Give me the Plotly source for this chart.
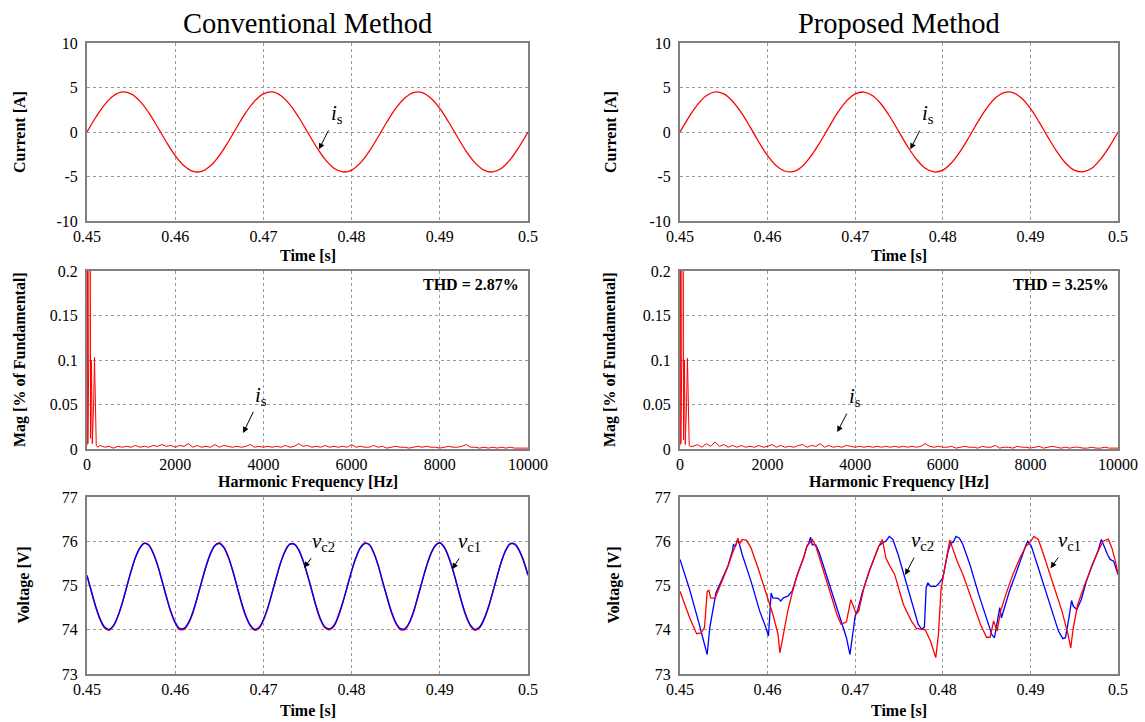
import plotly.graph_objects as go

# ---------------- sampling instants ----------------
t_cur = [round(0.450 + 0.001 * k, 4) for k in range(51)]
t_vc = [round(0.450 + 0.0005 * k, 5) for k in range(101)]

# ---------------- source current i_s [A] ----------------
is_conv = [0.00, 1.66, 3.08, 4.07, 4.50, 4.29, 3.47, 2.17, 0.56, -1.12,
           -2.65, -3.80, -4.42, -4.43, -3.80, -2.65, -1.12, 0.56, 2.17, 3.47,
           4.29, 4.50, 4.07, 3.08, 1.66, 0.00, -1.66, -3.08, -4.07, -4.49,
           -4.28, -3.47, -2.17, -0.56, 1.12, 2.65, 3.80, 4.43, 4.43, 3.80,
           2.65, 1.12, -0.56, -2.17, -3.47, -4.28, -4.49, -4.07, -3.08, -1.66,
           0.00]
is_prop = [0.00, 1.65, 3.08, 4.08, 4.50, 4.28, 3.46, 2.17, 0.57, -1.12,
           -2.66, -3.80, -4.41, -4.43, -3.81, -2.64, -1.12, 0.55, 2.18, 3.47,
           4.28, 4.49, 4.07, 3.09, 1.66, 0.01, -1.66, -3.07, -4.08, -4.49,
           -4.29, -3.46, -2.16, -0.56, 1.13, 2.65, 3.81, 4.42, 4.43, 3.79,
           2.65, 1.11, -0.57, -2.17, -3.48, -4.28, -4.48, -4.07, -3.07, -1.67,
           0.00]

# ---------------- harmonic spectrum of i_s ----------------
low_freq = [0, 10, 20, 40, 60, 80, 100, 120, 150, 170, 180, 190, 210, 240]
low_conv = [0.004, 0.300, 0.006, 0.100, 1.000, 0.012, 0.100, 0.006, 0.050, 0.103, 0.078, 0.050, 0.004, 0.002]
low_prop = [0.004, 0.300, 0.006, 0.100, 1.000, 0.010, 0.100, 0.005, 0.052, 0.102, 0.078, 0.050, 0.004, 0.003]

# 300 Hz ... 10000 Hz in 100 Hz steps
noise_conv = [
    0.004, 0.002, 0.003, 0.001, 0.003, 0.002, 0.003, 0.002, 0.004, 0.002,
    0.003, 0.002, 0.004, 0.003, 0.005, 0.003, 0.004, 0.002, 0.004, 0.003,
    0.006, 0.002, 0.004, 0.002, 0.003, 0.002, 0.005, 0.002, 0.004, 0.003,
    0.002, 0.003, 0.002, 0.003, 0.005, 0.002, 0.003, 0.002, 0.003, 0.002,
    0.003, 0.002, 0.004, 0.002, 0.003, 0.006, 0.003, 0.004, 0.002, 0.003,
    0.002, 0.004, 0.002, 0.003, 0.002, 0.003, 0.002, 0.005, 0.002, 0.003,
    0.002, 0.002, 0.004, 0.002, 0.003, 0.001, 0.002, 0.003, 0.002, 0.002,
    0.001, 0.002, 0.003, 0.002, 0.003, 0.002, 0.002, 0.001, 0.002, 0.003,
    0.002, 0.002, 0.003, 0.005, 0.002, 0.002, 0.001, 0.002, 0.001, 0.002,
    0.001, 0.002, 0.001, 0.002, 0.001, 0.001, 0.001, 0.001]
noise_prop = [
    0.003, 0.005, 0.002, 0.006, 0.003, 0.008, 0.003, 0.005, 0.002, 0.004,
    0.002, 0.004, 0.002, 0.003, 0.002, 0.004, 0.002, 0.003, 0.005, 0.002,
    0.004, 0.002, 0.003, 0.002, 0.004, 0.005, 0.002, 0.004, 0.003, 0.006,
    0.002, 0.004, 0.002, 0.003, 0.002, 0.004, 0.003, 0.002, 0.003, 0.002,
    0.003, 0.002, 0.003, 0.002, 0.003, 0.002, 0.003, 0.002, 0.003, 0.002,
    0.003, 0.002, 0.003, 0.006, 0.003, 0.002, 0.003, 0.002, 0.002, 0.003,
    0.001, 0.002, 0.003, 0.002, 0.002, 0.001, 0.003, 0.002, 0.002, 0.004,
    0.001, 0.002, 0.002, 0.001, 0.003, 0.002, 0.002, 0.001, 0.002, 0.003,
    0.001, 0.002, 0.003, 0.002, 0.001, 0.002, 0.001, 0.002, 0.002, 0.001,
    0.001, 0.002, 0.001, 0.001, 0.002, 0.001, 0.001, 0.001]

freq_conv = low_freq + [300 + 100 * k for k in range(len(noise_conv))]
freq_prop = low_freq + [300 + 100 * k for k in range(len(noise_prop))]
mag_conv = low_conv + noise_conv
mag_prop = low_prop + noise_prop

# ---------------- DC-link capacitor voltages, conventional [V] ----------------
vc2_conv = [75.23, 74.87, 74.52, 74.24, 74.06, 74.01, 74.10, 74.31, 74.61, 74.97,
            75.33, 75.64, 75.85, 75.95, 75.91, 75.73, 75.46, 75.11, 74.75, 74.42,
            74.17, 74.03, 74.03, 74.16, 74.40, 74.73, 75.09, 75.44, 75.72, 75.90,
            75.95, 75.86, 75.65, 75.35, 74.99, 74.63, 74.32, 74.11, 74.01, 74.05,
            74.23, 74.50, 74.85, 75.21, 75.54, 75.79, 75.93, 75.93, 75.80, 75.56,
            75.24, 74.88, 74.52, 74.23, 74.06, 74.02, 74.10, 74.32, 74.62, 74.97,
            75.33, 75.63, 75.85, 75.95, 75.92, 75.74, 75.46, 75.10, 74.75, 74.42,
            74.17, 74.03, 74.02, 74.15, 74.40, 74.74, 75.10, 75.44, 75.72, 75.90,
            75.96, 75.86, 75.64, 75.34, 74.98, 74.62, 74.31, 74.10, 74.01, 74.06,
            74.24, 74.51, 74.85, 75.21, 75.55, 75.80, 75.94, 75.93, 75.79, 75.55,
            75.23]
vc1_conv = [75.22, 74.86, 74.50, 74.22, 74.04, 73.99, 74.08, 74.30, 74.60, 74.96,
            75.32, 75.63, 75.85, 75.96, 75.92, 75.74, 75.46, 75.11, 74.74, 74.40,
            74.15, 74.01, 74.01, 74.14, 74.38, 74.72, 75.08, 75.43, 75.72, 75.91,
            75.96, 75.87, 75.66, 75.35, 74.98, 74.61, 74.30, 74.09, 73.99, 74.03,
            74.21, 74.49, 74.84, 75.20, 75.54, 75.80, 75.94, 75.94, 75.81, 75.56,
            75.23, 74.87, 74.50, 74.21, 74.04, 74.00, 74.08, 74.30, 74.61, 74.96,
            75.32, 75.63, 75.86, 75.96, 75.93, 75.75, 75.47, 75.10, 74.74, 74.40,
            74.15, 74.01, 74.00, 74.13, 74.38, 74.73, 75.09, 75.44, 75.73, 75.91,
            75.97, 75.87, 75.65, 75.34, 74.97, 74.60, 74.29, 74.08, 73.99, 74.04,
            74.22, 74.49, 74.84, 75.20, 75.55, 75.81, 75.95, 75.94, 75.80, 75.56,
            75.24]

# ---------------- DC-link capacitor voltages, proposed [V] ----------------
t_vc1_prop = [0.4500, 0.4511, 0.4519, 0.4524, 0.4528, 0.4531, 0.4533, 0.4535, 0.4540, 0.4542,
              0.4548, 0.4555, 0.4560, 0.4564, 0.4566, 0.4568, 0.4571, 0.4576, 0.4581, 0.4589,
              0.4598, 0.4606, 0.4612, 0.4614, 0.4618, 0.4623, 0.4628, 0.4634, 0.4641, 0.4645,
              0.4648, 0.4651, 0.4655, 0.4663, 0.4671, 0.4679, 0.4684, 0.4690, 0.4695, 0.4698,
              0.4701, 0.4704, 0.4710, 0.4716, 0.4723, 0.4727, 0.4731, 0.4735, 0.4739, 0.4745,
              0.4755, 0.4764, 0.4770, 0.4776, 0.4780, 0.4786, 0.4792, 0.4795, 0.4798, 0.4800,
              0.4803, 0.4806, 0.4808, 0.4811, 0.4817, 0.4823, 0.4835, 0.4843, 0.4850, 0.4854,
              0.4858, 0.4862, 0.4866, 0.4872, 0.4880, 0.4888, 0.4895, 0.4899, 0.4904, 0.4909,
              0.4915, 0.4925, 0.4936, 0.4943, 0.4946, 0.4949, 0.4954, 0.4962, 0.4970, 0.4977,
              0.4983, 0.4989, 0.4993, 0.4997, 0.5000]
vc1_prop = [74.87, 74.27, 73.91, 73.93, 74.05, 74.86, 74.89, 74.72, 74.71, 74.80,
            75.10, 75.44, 75.74, 75.92, 76.07, 75.94, 76.04, 76.02, 75.85, 75.40,
            74.87, 74.35, 73.89, 73.48, 73.89, 74.42, 74.83, 75.25, 75.62, 75.89,
            75.96, 76.04, 75.89, 75.40, 74.87, 74.35, 74.12, 74.18, 74.68, 74.53,
            74.35, 74.42, 74.95, 75.32, 75.70, 75.89, 76.04, 75.62, 75.46, 75.25,
            74.57, 74.20, 74.03, 74.01, 74.00, 73.74, 73.37, 73.89, 74.90, 75.15,
            75.47, 75.77, 76.03, 75.85, 75.52, 75.25, 74.57, 74.12, 73.83, 73.83,
            74.20, 73.97, 74.42, 74.80, 75.25, 75.62, 75.89, 75.96, 76.11, 76.04,
            75.70, 75.10, 74.42, 73.89, 73.59, 74.05, 74.57, 75.02, 75.44, 75.77,
            76.00, 76.05, 75.85, 75.55, 75.25]

t_vc2_prop = [0.4500, 0.4511, 0.4522, 0.4528, 0.4531, 0.4534, 0.4538, 0.4541, 0.4548, 0.4555,
              0.4560, 0.4561, 0.4563, 0.4566, 0.4568, 0.4571, 0.4581, 0.4591, 0.4598, 0.4601,
              0.4604, 0.4606, 0.4612, 0.4615, 0.4618, 0.4623, 0.4628, 0.4634, 0.4641, 0.4645,
              0.4647, 0.4649, 0.4651, 0.4655, 0.4659, 0.4667, 0.4675, 0.4684, 0.4690, 0.4694,
              0.4697, 0.4700, 0.4703, 0.4708, 0.4716, 0.4723, 0.4727, 0.4731, 0.4735, 0.4739,
              0.4743, 0.4749, 0.4757, 0.4766, 0.4772, 0.4776, 0.4779, 0.4781, 0.4783, 0.4786,
              0.4792, 0.4796, 0.4800, 0.4803, 0.4806, 0.4809, 0.4812, 0.4815, 0.4819, 0.4823,
              0.4831, 0.4841, 0.4850, 0.4856, 0.4859, 0.4862, 0.4865, 0.4867, 0.4870, 0.4876,
              0.4884, 0.4890, 0.4895, 0.4897, 0.4901, 0.4909, 0.4917, 0.4925, 0.4932, 0.4937,
              0.4940, 0.4944, 0.4947, 0.4949, 0.4953, 0.4958, 0.4964, 0.4970, 0.4977, 0.4981,
              0.4984, 0.4988, 0.4991, 0.4995, 0.5000]
vc2_prop = [75.59, 74.91, 74.12, 73.67, 73.44, 74.05, 74.50, 74.83, 75.14, 75.46,
            75.79, 75.92, 75.89, 76.04, 75.92, 75.70, 75.10, 74.42, 74.05, 73.86,
            74.83, 74.72, 74.71, 74.65, 74.72, 74.76, 74.87, 75.25, 75.62, 75.89,
            75.96, 76.09, 75.92, 75.92, 75.74, 75.25, 74.72, 74.20, 73.82, 73.44,
            73.89, 74.31, 74.46, 74.83, 75.32, 75.70, 75.89, 75.96, 76.00, 76.11,
            76.04, 75.70, 75.17, 74.57, 74.12, 74.01, 74.06, 74.95, 75.06, 74.98,
            74.98, 75.06, 75.17, 75.47, 75.77, 75.96, 75.98, 76.11, 76.07, 75.92,
            75.47, 74.80, 74.27, 73.89, 73.82, 74.12, 74.50, 74.27, 74.46, 74.87,
            75.30, 75.65, 75.92, 76.00, 75.89, 75.40, 74.91, 74.42, 73.97, 73.80,
            73.82, 74.27, 74.66, 74.53, 74.46, 74.68, 75.10, 75.44, 75.77, 76.04,
            75.89, 75.70, 75.59, 75.55, 75.25]

# ---------------- styling ----------------
SERIF = "Liberation Serif, Times New Roman, serif"
RED = "#ff0000"
BLUE = "#0000ff"
W, H = 1145, 722

X_LEFT = [87 / W, 528 / W]
X_RIGHT = [680 / W, 1118 / W]
Y_ROW = [[1 - 221 / H, 1 - 43 / H],
         [1 - 449 / H, 1 - 271 / H],
         [1 - 674 / H, 1 - 497 / H]]

fig = go.Figure()

def add(x, y, color, ax_idx, width=1.3, shape="linear"):
    s = "" if ax_idx == 1 else str(ax_idx)
    fig.add_trace(go.Scatter(x=x, y=y, mode="lines",
                             line=dict(color=color, width=width, shape=shape),
                             xaxis="x" + s, yaxis="y" + s, showlegend=False,
                             hoverinfo="skip"))

# row 1: current
add(t_cur, is_conv, RED, 1, 1.3, "spline")
add(t_cur, is_prop, RED, 2, 1.3, "spline")
# row 2: spectrum
add(freq_conv, mag_conv, RED, 3, 1.0)
add(freq_prop, mag_prop, RED, 4, 1.0)
# row 3: capacitor voltages
add(t_vc, vc1_conv, RED, 5, 1.4, "spline")
add(t_vc, vc2_conv, BLUE, 5, 1.4, "spline")
add(t_vc2_prop, vc2_prop, BLUE, 6, 1.3)
add(t_vc1_prop, vc1_prop, RED, 6, 1.3)

time_ticks = [0.45, 0.46, 0.47, 0.48, 0.49, 0.5]
time_text = ["0.45", "0.46", "0.47", "0.48", "0.49", "0.5"]
freq_ticks = [0, 2000, 4000, 6000, 8000, 10000]
freq_text = ["0", "2000", "4000", "6000", "8000", "10000"]
cur_ticks = [-10, -5, 0, 5, 10]
cur_text = ["-10", "-5", "0", "5", "10"]
mag_ticks = [0, 0.05, 0.1, 0.15, 0.2]
mag_text = ["0", "0.05", "0.1", "0.15", "0.2"]
volt_ticks = [73, 74, 75, 76, 77]
volt_text = ["73", "74", "75", "76", "77"]

common = dict(showline=True, mirror=True, linecolor="#808080", linewidth=2,
              showgrid=True, gridcolor="#9a9a9a", gridwidth=1, griddash="dot",
              zeroline=False, ticks="", tickfont=dict(family=SERIF, size=16, color="black"),
              tickmode="array", fixedrange=True, automargin=False)

axes = {}
specs = [  # (x domain, y domain, x range, x ticks, x text, y range, y ticks, y text)
    (X_LEFT, Y_ROW[0], [0.45, 0.5], time_ticks, time_text, [-10, 10], cur_ticks, cur_text),
    (X_RIGHT, Y_ROW[0], [0.45, 0.5], time_ticks, time_text, [-10, 10], cur_ticks, cur_text),
    (X_LEFT, Y_ROW[1], [0, 10000], freq_ticks, freq_text, [0, 0.2], mag_ticks, mag_text),
    (X_RIGHT, Y_ROW[1], [0, 10000], freq_ticks, freq_text, [0, 0.2], mag_ticks, mag_text),
    (X_LEFT, Y_ROW[2], [0.45, 0.5], time_ticks, time_text, [73, 77], volt_ticks, volt_text),
    (X_RIGHT, Y_ROW[2], [0.45, 0.5], time_ticks, time_text, [73, 77], volt_ticks, volt_text),
]
for i, (xd, yd, xr, xt, xtt, yr, yt, ytt) in enumerate(specs, start=1):
    s = "" if i == 1 else str(i)
    axes["xaxis" + s] = dict(common, domain=xd, range=xr, tickvals=xt, ticktext=xtt,
                             anchor="y" + s, ticklabelstandoff=0)
    axes["yaxis" + s] = dict(common, domain=yd, range=yr, tickvals=yt, ticktext=ytt,
                             anchor="x" + s, ticklabelstandoff=4)

annotations = []

def label(text, x, y, size=16, bold=True, angle=0, xanchor="center"):
    annotations.append(dict(text=("<b>%s</b>" % text) if bold else text, x=x, y=y,
                            xref="paper", yref="paper", showarrow=False,
                            textangle=angle, xanchor=xanchor, yanchor="middle",
                            font=dict(family=SERIF, size=size, color="black")))

# column titles
label("Conventional Method", (X_LEFT[0] + X_LEFT[1]) / 2, 1 - 23 / H, size=28.5, bold=False)
label("Proposed Method", (X_RIGHT[0] + X_RIGHT[1]) / 2, 1 - 23 / H, size=28.5, bold=False)

# axis titles
for xd, yl in ((X_LEFT, [19 / W, 20 / W, 23 / W]), (X_RIGHT, [610 / W, 610 / W, 613 / W])):
    xc = (xd[0] + xd[1]) / 2
    label("Time [s]", xc, 1 - 255 / H)
    label("Harmonic Frequency [Hz]", xc, 1 - 482 / H)
    label("Time [s]", xc, 1 - 710 / H)
    label("Current [A]", yl[0], (Y_ROW[0][0] + Y_ROW[0][1]) / 2, angle=-90)
    label("Mag [% of Fundamental]", yl[1], (Y_ROW[1][0] + Y_ROW[1][1]) / 2, angle=-90)
    label("Voltage [V]", yl[2], (Y_ROW[2][0] + Y_ROW[2][1]) / 2, angle=-90)

# THD read-outs
for s, thd in (("3", "THD = 2.87%"), ("4", "THD = 3.25%")):
    annotations.append(dict(text="<b>%s</b>" % thd, x=9830, y=0.185, xref="x" + s, yref="y" + s,
                            showarrow=False, xanchor="right", yanchor="middle",
                            font=dict(family=SERIF, size=16, color="black")))

def tag(text, s, tx, ty, hx, hy, size=21):
    """Signal name placed at (tx, ty) with an arrow pointing at (hx, hy)."""
    xr, yr = ("x" + s, "y" + s) if s != "1" else ("x", "y")
    annotations.append(dict(text=text, x=hx, y=hy, ax=tx, ay=ty, xref=xr, yref=yr,
                            axref=xr, ayref=yr, showarrow=True, arrowhead=2,
                            arrowsize=1.2, arrowwidth=1, arrowcolor="black",
                            startstandoff=2,
                            font=dict(family=SERIF, size=size, color="black")))

IS = "<i>i</i><sub>s</sub>"
VC1 = "<i>v</i><sub>c1</sub>"
VC2 = "<i>v</i><sub>c2</sub>"
tag(IS, "1", 0.4783, 2.0, 0.4763, -1.95)
tag(IS, "2", 0.4783, 2.0, 0.4763, -1.95)
tag(IS, "3", 3950, 0.060, 3540, 0.018)
tag(IS, "4", 4000, 0.058, 3590, 0.019)
tag(VC2, "5", 0.4768, 75.98, 0.4746, 75.40)
tag(VC1, "5", 0.4934, 75.98, 0.4914, 75.37)
tag(VC2, "6", 0.4777, 76.0, 0.4757, 75.24)
tag(VC1, "6", 0.4945, 76.0, 0.4923, 75.39)

fig.update_layout(width=W, height=H, margin=dict(l=0, r=0, t=0, b=0, autoexpand=False),
                  paper_bgcolor="white", plot_bgcolor="white",
                  annotations=annotations, **axes)

fig.write_html("out.html")
